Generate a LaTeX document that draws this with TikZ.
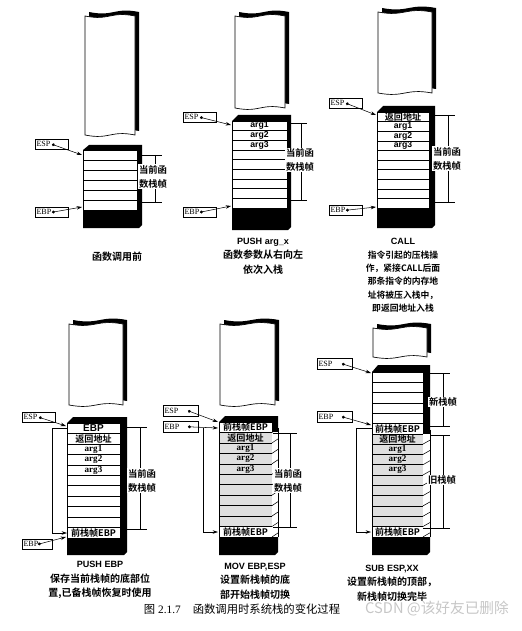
\documentclass[tikz,border=0pt]{standalone}
\usepackage{fontspec}
\setmainfont{Liberation Serif}
\setsansfont{Liberation Sans}
\newfontfamily\hei{Noto Sans CJK SC Bold}
\newfontfamily\song{Noto Sans CJK SC}
\usetikzlibrary{arrows.meta,calc}

\begin{document}
\begin{tikzpicture}[x=0.75pt,y=-0.75pt,
  regbox/.style={draw,line width=0.4pt,anchor=north west,inner xsep=1pt,inner ysep=0pt,
    minimum height=7.5pt,text width=22.75pt,align=left,font=\fontsize{6}{6}\selectfont},
  widebox/.style={regbox,minimum height=8.25pt,text width=24.25pt},
  ptr/.style={line width=0.4pt,{Circle[length=2.2pt]}-{Stealth[length=4pt,width=2.6pt]}},
  chain/.style={line width=0.4pt,-{Stealth[length=4pt,width=2.6pt]}},
  slot/.style={inner sep=0pt,font=\sffamily\bfseries\fontsize{6.5}{6.5}\selectfont},
  rmslot/.style={inner sep=0pt,font=\bfseries\fontsize{6.8}{6.8}\selectfont},
  cnslot/.style={inner sep=0pt,font=\hei\fontsize{6.8}{6.8}\selectfont},
  brace/.style={line width=0.4pt},
  bracetxt/.style={fill=white,inner sep=0.6pt,align=center,font=\hei\fontsize{7}{10.5}\selectfont},
  caption/.style={align=center,inner sep=0pt,font=\hei\fontsize{7.5}{11}\selectfont},
]
\useasboundingbox (0,0) rectangle (521,631);

% upper part of each stack (wavy cut, black 3d edge)
\foreach \xl/\xr/\yt/\yb in {85/135/16/135,235/285/16/108,378/432/12/93,69/123/324/405,220/275/324/405,373/427/328/357}{
  \fill[shift={(4,-4)}] (\xl,\yt) .. controls ({(\xl+\xr)/2},{\yt+5}) and ({(\xl+\xr)/2},{\yt-5}) .. (\xr,\yt)
    -- (\xr,\yb) .. controls ({(\xl+\xr)/2},{\yb-5}) and ({(\xl+\xr)/2},{\yb+5}) .. (\xl,\yb) -- cycle;
  \filldraw[fill=white,line width=0.5pt] (\xl,\yt) .. controls ({(\xl+\xr)/2},{\yt+5}) and ({(\xl+\xr)/2},{\yt-5}) .. (\xr,\yt)
    -- (\xr,\yb) .. controls ({(\xl+\xr)/2},{\yb-5}) and ({(\xl+\xr)/2},{\yb+5}) .. (\xl,\yb) -- cycle;
}

% ---- panel 1: before the call
\fill (83,150) -- (89,145) -- (142,145) -- (142,225) -- (139,228) -- (83,228) -- cycle;
\filldraw[fill=white,line width=0.4pt] (83,150) rectangle (137,210);
\foreach \y in {160,170,...,200} \draw[line width=0.4pt] (83,\y) -- (137,\y);
\coordinate (s1top) at (82,155);
\coordinate (s1bot) at (82,207);
\node[regbox] (esp1) at (35,139) {ESP};
\node[regbox] (ebp1) at (35,207) {EBP};
\draw[ptr] ($(esp1.west)+(17,0)$) -- (s1top);
\draw[ptr] ($(ebp1.west)+(17,0)$) -- (s1bot);
\draw[brace] (139,155) -- (162,155) (155,155) -- (155,202) (137,202) -- (162,202);
\node[bracetxt] (f1) at (153,176.5) {当前函\\数栈帧};
\node[caption] (c1) at (117,257) {函数调用前};

% ---- panel 2: push arg_x
\fill (232,121) -- (238,115) -- (291,115) -- (291,227) -- (288,230) -- (232,230) -- cycle;
\filldraw[fill=white,line width=0.4pt] (232,121) rectangle (287,208);
\foreach \k in {1,...,8} \draw[line width=0.4pt] (232,{121+9.67*\k}) -- (287,{121+9.67*\k});
\node[slot] (a21) at (259.5,125.8) {arg1};
\node[slot] (a22) at (259.5,135.5) {arg2};
\node[slot] (a23) at (259.5,145.2) {arg3};
\coordinate (s2top) at (231,125);
\coordinate (s2bot) at (231,206);
\node[regbox] (esp2) at (183,112) {ESP};
\node[regbox] (ebp2) at (183,207) {EBP};
\draw[ptr] ($(esp2.west)+(17,0)$) -- (s2top);
\draw[ptr] ($(ebp2.west)+(17,0)$) -- (s2bot);
\draw[brace] (290,123) -- (307,123) (301,123) -- (301,200) (287,200) -- (307,200);
\node[bracetxt] (f2) at (300,160) {当前函\\数栈帧};
\node[caption] (c2) at (263,256) {{\sffamily\bfseries\fontsize{6.8}{11}\selectfont PUSH arg\_x}\\函数参数从右向左\\依次入栈};

% ---- panel 3: call
\fill (377,112) -- (383,106) -- (435,106) -- (435,225) -- (432,228) -- (377,228) -- cycle;
\filldraw[fill=white,line width=0.4pt] (377,112) rectangle (429,208);
\foreach \k in {1,...,9} \draw[line width=0.4pt] (377,{112+9.6*\k}) -- (429,{112+9.6*\k});
\node[cnslot] (r3) at (403,116.8) {返回地址};
\node[slot] (a31) at (403,126.4) {arg1};
\node[slot] (a32) at (403,136) {arg2};
\node[slot] (a33) at (403,145.6) {arg3};
\coordinate (s3top) at (376,115);
\coordinate (s3bot) at (376,207);
\node[regbox] (esp3) at (329,98) {ESP};
\node[regbox] (ebp3) at (329,205) {EBP};
\draw[ptr] ($(esp3.west)+(17,0)$) -- (s3top);
\draw[ptr] ($(ebp3.west)+(17,0)$) -- (s3bot);
\draw[brace] (430,115) -- (455,115) (448,115) -- (448,202) (430,202) -- (455,202);
\node[bracetxt] (f3) at (447,158.5) {当前函\\数栈帧};
\node[caption,font=\hei\fontsize{6.6}{10}\selectfont] (c3) at (403,275.5)
  {{\sffamily\bfseries\fontsize{6.8}{10}\selectfont CALL}\\指令引起的压栈操\\作，紧接CALL后面\\那条指令的内存地\\址将被压入栈中，\\即返回地址入栈};

% ---- panel 4: push ebp
\fill (67,423) -- (73,417) -- (127,417) -- (127,552) -- (124,555) -- (67,555) -- cycle;
\filldraw[fill=white,line width=0.4pt] (67,423) rectangle (120,538);
\foreach \k in {1,...,10} \draw[line width=0.4pt] (67,{423+10.45*\k}) -- (120,{423+10.45*\k});
\node[slot,font=\sffamily\bfseries\fontsize{7.5}{7.5}\selectfont] (e4) at (93.5,428.2) {EBP};
\node[cnslot] (r4) at (93.5,438.7) {返回地址};
\node[rmslot] (a41) at (93.5,449.1) {arg1};
\node[rmslot] (a42) at (93.5,459.6) {arg2};
\node[rmslot] (a43) at (93.5,470) {arg3};
\node[cnslot] (o4) at (93.5,532.8) {前栈帧EBP};
\coordinate (s4top) at (66,426);
\coordinate (s4bot) at (66,537);
\coordinate (s4sav) at (67,428);
\coordinate (s4old) at (67,533);
\node[regbox] (esp4) at (22,412) {ESP};
\node[regbox,text width=20.25pt] (ebp4) at (22,539) {EBP};
\draw[ptr] ($(esp4.west)+(17,0)$) -- (s4top);
\draw[ptr] ($(ebp4.west)+(16,0)$) -- (s4bot);
\draw[chain] (s4sav) -- ++(-15,0) |- (s4old);
\draw[brace] (122,427) -- (147,427) (140,427) -- (140,529) (120,529) -- (147,529);
\node[bracetxt] (f4) at (142,480.5) {当前函\\数栈帧};
\node[caption] (c4) at (100,580) {{\sffamily\bfseries\fontsize{6.8}{11}\selectfont PUSH EBP}\\保存当前栈帧的底部位\\置,已备栈帧恢复时使用};

% ---- panel 5: mov ebp,esp
\fill (219,422) -- (225,416) -- (278,416) -- (278,552) -- (275,555) -- (219,555) -- cycle;
\filldraw[fill=white,line width=0.4pt] (219,422) rectangle (272,537);
\fill[gray!25] (219,432.45) rectangle (272,526.55);
\foreach \k in {1,...,10} \draw[line width=0.4pt] (219,{422+10.45*\k}) -- (272,{422+10.45*\k});
\draw[line width=0.4pt] (219,422) rectangle (272,537);
\fill[white] (272,432.45) rectangle (278,537);
\draw[line width=0.4pt] (278,428.45) -- (278,537);
\foreach \k in {1,...,11} \draw[line width=0.4pt] (272,{422+10.45*\k}) -- (278,{418+10.45*\k});
\node[cnslot] (t5) at (245.5,427.2) {前栈帧EBP};
\node[cnslot] (r5) at (245.5,437.7) {返回地址};
\node[rmslot] (a51) at (245.5,448.1) {arg1};
\node[rmslot] (a52) at (245.5,458.6) {arg2};
\node[rmslot] (a53) at (245.5,469) {arg3};
\node[cnslot] (o5) at (245.5,531.8) {前栈帧EBP};
\coordinate (s5esp) at (218,422);
\coordinate (s5ebp) at (218,428);
\coordinate (s5old) at (218,532);
\node[widebox] (esp5) at (163,405) {ESP};
\node[widebox] (ebp5) at (163,421) {EBP};
\draw[ptr] ($(esp5.west)+(25,0)$) -- (s5esp);
\draw[ptr] ($(ebp5.west)+(25,0)$) -- (s5ebp);
\draw[chain] (203,428) |- (s5old);
\draw[brace] (273,433) -- (297,433) (290,433) -- (290,527) (273,527) -- (297,527);
\node[bracetxt] (f5) at (288,480.5) {当前函\\数栈帧};
\node[caption] (c5) at (255,581) {{\sffamily\bfseries\fontsize{6.8}{11}\selectfont MOV EBP,ESP}\\设置新栈帧的底\\部开始栈帧切换};

% ---- panel 6: sub esp,xx
\fill (372,372) -- (378,365) -- (430,365) -- (430,552) -- (427,555) -- (372,555) -- cycle;
\filldraw[fill=white,line width=0.4pt] (372,372) rectangle (423,537);
\fill[gray!25] (372,433.8) rectangle (423,526.7);
\foreach \k in {1,...,15} \draw[line width=0.4pt] (372,{372+10.3*\k}) -- (423,{372+10.3*\k});
\draw[line width=0.4pt] (372,372) rectangle (423,537);
\fill[white] (423,433.8) rectangle (430,537);
\draw[line width=0.4pt] (430,429.8) -- (430,537);
\foreach \k in {6,...,16} \draw[line width=0.4pt] (423,{372+10.3*\k}) -- (430,{368+10.3*\k});
\node[cnslot] (t6) at (397.5,428.7) {前栈帧EBP};
\node[cnslot] (r6) at (397.5,439) {返回地址};
\node[rmslot] (a61) at (397.5,449.3) {arg1};
\node[rmslot] (a62) at (397.5,459.6) {arg2};
\node[rmslot] (a63) at (397.5,469.9) {arg3};
\node[cnslot] (o6) at (397.5,531.9) {前栈帧EBP};
\coordinate (s6esp) at (371,373);
\coordinate (s6ebp) at (371,425);
\coordinate (s6sav) at (372,428);
\coordinate (s6old) at (371,532);
\node[widebox] (esp6) at (317,358) {ESP};
\node[widebox] (ebp6) at (317,411) {EBP};
\draw[ptr] ($(esp6.west)+(25,0)$) -- (s6esp);
\draw[ptr] ($(ebp6.west)+(25,0)$) -- (s6ebp);
\draw[chain] (s6sav) -- ++(-16,0) |- (s6old);
\draw[brace] (430,373) -- (450,373) (443,373) -- (443,426) (423,426) -- (450,426);
\node[bracetxt] (n6) at (443,402) {新栈帧};
\draw[brace] (430,435) -- (450,435) (443,435) -- (443,528) (423,528) -- (450,528);
\node[bracetxt] (o6b) at (442,480) {旧栈帧};
\node[caption] (c6) at (392,583) {{\sffamily\bfseries\fontsize{6.8}{11}\selectfont SUB ESP,XX}\\设置新栈帧的顶部，\\新栈帧切换完毕};

% figure caption and watermark
\node[inner sep=0pt,font=\fontsize{8.5}{8.5}\selectfont] (fig) at (242,609)
  {{\song 图} 2.1.7\hspace{9pt}{\song 函数调用时系统栈的变化过程}};
\node[inner sep=0pt,text=gray!45,font=\song\fontsize{11}{11}\selectfont] (wm) at (437,609) {CSDN @该好友已删除};
\end{tikzpicture}
\end{document}
